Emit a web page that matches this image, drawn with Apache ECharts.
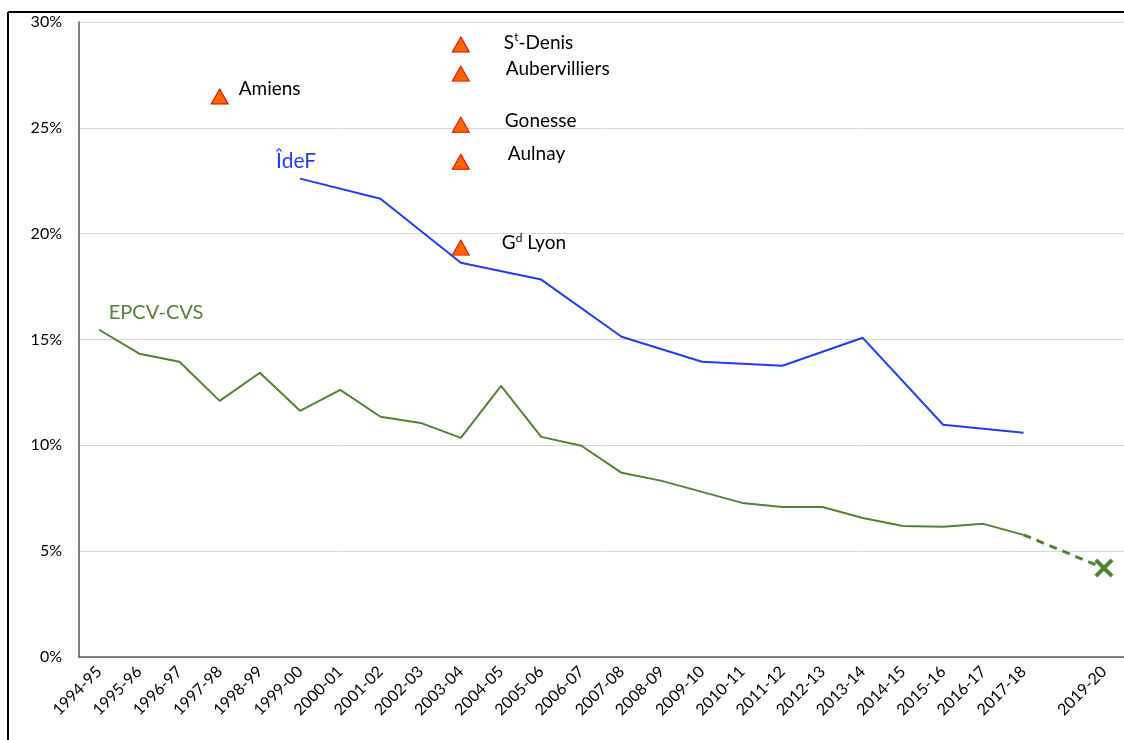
<!DOCTYPE html>
<html>
<head>
<meta charset="utf-8">
<script src="https://cdn.jsdelivr.net/npm/echarts@6/dist/echarts.min.js"></script>
<style>html,body{margin:0;padding:0;background:#fff;}#c{width:1124px;height:740px;}</style>
</head>
<body>
<div id="c"></div>
<script>
const categories = ['1994-95','1995-96','1996-97','1997-98','1998-99','1999-00','2000-01','2001-02','2002-03','2003-04','2004-05','2005-06','2006-07','2007-08','2008-09','2009-10','2010-11','2011-12','2012-13','2013-14','2014-15','2015-16','2016-17','2017-18','2018-19','2019-20'];
const tickLabels = ['1994-95','1995-96','1996-97','1997-98','1998-99','1999-00','2000-01','2001-02','2002-03','2003-04','2004-05','2005-06','2006-07','2007-08','2008-09','2009-10','2010-11','2011-12','2012-13','2013-14','2014-15','2015-16','2016-17','2017-18','','2019-20'];
const epcv = [15.46,14.33,13.95,12.1,13.43,11.63,12.62,11.35,11.06,10.35,12.81,10.4,9.98,8.7,8.32,7.8,7.28,7.09,7.09,6.57,6.19,6.15,6.29,5.77,null,null];
const epcvProjection = [null,null,null,null,null,null,null,null,null,null,null,null,null,null,null,null,null,null,null,null,null,null,null,5.77,null,4.2];
const idef = [null,null,null,null,null,22.6,null,21.65,null,18.63,null,17.83,null,15.13,null,13.95,null,13.76,null,15.08,null,10.97,null,10.59,null,null];
const cityNames = ['Amiens','St-Denis','Aubervilliers','Gonesse','Aulnay','Gd Lyon'];
const cityYears = ['1997-98','2003-04','2003-04','2003-04','2003-04','2003-04'];
const cityValues = [26.48,28.94,27.56,25.15,23.4,19.34];
const yTicks = [0,5,10,15,20,25,30];

const GREEN = '#548235', BLUE = '#1F3BFF';
const FONT = 'Lato, "Open Sans", sans-serif';

const labelOffsets = {'Amiens':[5,-8],'St-Denis':[29,-2],'Aubervilliers':[31,-5],'Gonesse':[30,-4],'Aulnay':[33,-8],'Gd Lyon':[27,-5]};
const labelRich = {
  'St-Denis': '{n|S}{s|t}{n|-Denis}',
  'Gd Lyon': '{n|G}{s|d}{n| Lyon}'
};

const chart = echarts.init(document.getElementById('c'), null, {renderer:'canvas'});
const xPath = 'path://M3,0 L10,7 L17,0 L20,3 L13,10 L20,17 L17,20 L10,13 L3,20 L0,17 L7,10 L0,3 Z';

chart.setOption({
  animation: false,
  backgroundColor: '#fff',
  grid: {left: 79, top: 22, width: 1046, bottom: 83, containLabel: false},
  xAxis: {
    type: 'category',
    data: categories,
    boundaryGap: true,
    axisLine: {lineStyle: {color: '#595959', width: 1.5}},
    axisTick: {show: false},
    axisLabel: {
      interval: 0, rotate: 45, margin: 12, color: '#000', fontSize: 16, fontFamily: FONT,
      formatter: (v, i) => tickLabels[i]
    },
    splitLine: {show: false}
  },
  yAxis: {
    type: 'value', min: 0, max: 30, interval: 5,
    axisLine: {show: true, lineStyle: {color: '#595959', width: 1.5}},
    axisTick: {show: false},
    axisLabel: {margin: 17, color: '#000', fontSize: 16, fontFamily: FONT, formatter: v => v + '%'},
    splitLine: {lineStyle: {color: '#d9d9d9', width: 1}}
  },
  graphic: [
    {type: 'line', shape: {x1: 8, y1: 12, x2: 1124, y2: 12}, style: {stroke: '#000', lineWidth: 2}},
    {type: 'line', shape: {x1: 8, y1: 12, x2: 8, y2: 740}, style: {stroke: '#000', lineWidth: 2}}
  ],
  series: [
    {
      name: 'EPCV-CVS', type: 'line', data: epcv, showSymbol: false, symbol: 'none',
      lineStyle: {color: GREEN, width: 2}, itemStyle: {color: GREEN},
      markPoint: {
        symbol: 'circle', symbolSize: 0, silent: true,
        data: [{coord: [categories[0], epcv[0]], label: {show: true, formatter: 'EPCV-CVS', position: 'inside', offset: [57, -17], color: GREEN, fontSize: 20, fontFamily: FONT}}]
      }
    },
    {
      name: 'projection', type: 'line', data: epcvProjection, connectNulls: true,
      symbol: 'none', lineStyle: {color: GREEN, width: 3, type: [8, 6]}
    },
    {
      name: 'projectionPoint', type: 'scatter',
      data: [[categories[25], epcvProjection[25]]],
      symbol: xPath, symbolSize: 19, itemStyle: {color: GREEN, opacity: 1}
    },
    {
      name: 'ÎdeF', type: 'line', data: idef, connectNulls: true, symbol: 'none',
      lineStyle: {color: BLUE, width: 2}, itemStyle: {color: BLUE},
      markPoint: {
        symbol: 'circle', symbolSize: 0, silent: true,
        data: [{coord: [categories[5], idef[5]], label: {show: true, formatter: 'ÎdeF', position: 'inside', offset: [-4, -17], color: BLUE, fontSize: 21, fontFamily: FONT}}]
      }
    },
    {
      name: 'villes', type: 'scatter', symbol: 'triangle', symbolSize: [17, 15],
      itemStyle: {color: '#FF6600', borderColor: '#E00000', borderWidth: 1, opacity: 1},
      data: cityNames.map((n, i) => ({
        value: [cityYears[i], cityValues[i]], name: n,
        label: {
          show: true, position: 'right', offset: labelOffsets[n],
          formatter: labelRich[n] || '{n|' + n + '}',
          rich: {
            n: {fontSize: 19, fontFamily: FONT, color: '#000'},
            s: {fontSize: 12, fontFamily: FONT, color: '#000', verticalAlign: 'top', padding: [0, 0, 10, 0]}
          }
        }
      }))
    }
  ]
});
</script>
</body>
</html>
